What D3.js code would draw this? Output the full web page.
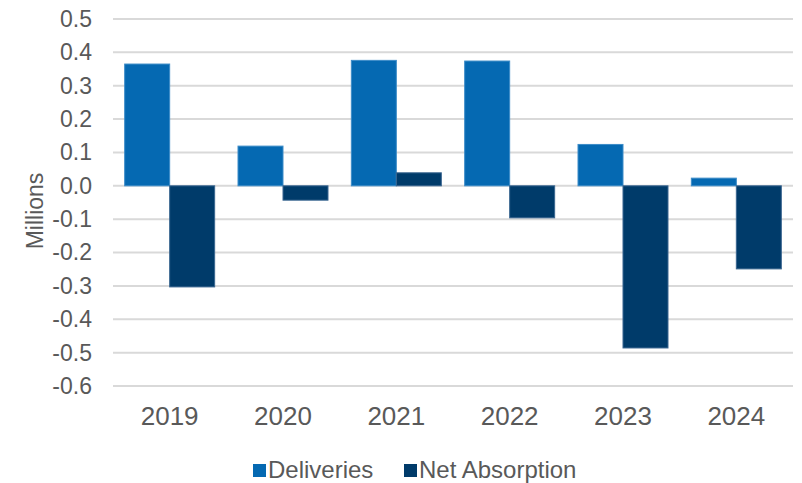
<!DOCTYPE html>
<html>
<head>
<meta charset="utf-8">
<script src="https://cdn.jsdelivr.net/npm/d3@7"></script>
<style>
  body { margin: 0; background: #fff; }
  text { font-family: "Liberation Sans", Arial, sans-serif; fill: #595959; }
</style>
</head>
<body>
<script>
// categories and series
var years = ["2019", "2020", "2021", "2022", "2023", "2024"];
var deliveries = [0.365, 0.119, 0.376, 0.374, 0.124, 0.023];
var netAbsorption = [-0.303, -0.043, 0.039, -0.096, -0.486, -0.249];
var seriesNames = ["Deliveries", "Net Absorption"];
var yTicks = [0.5, 0.4, 0.3, 0.2, 0.1, 0.0, -0.1, -0.2, -0.3, -0.4, -0.5, -0.6];

var colors = ["#0569b2", "#003b6a"];
var width = 802, height = 483;
var margin = { left: 113, right: 9, top: 19, bottom: 97 };

var svg = d3.select("body").append("svg").attr("width", width).attr("height", height);

var x = d3.scaleBand().domain(years).range([margin.left, width - margin.right]);
var x1 = d3.scaleBand().domain(seriesNames).range([x.bandwidth() * 0.103, x.bandwidth() * 0.897]);
var y = d3.scaleLinear().domain([-0.6, 0.5]).range([height - margin.bottom, margin.top]);

// gridlines
svg.append("g").selectAll("line").data(yTicks).enter().append("line")
    .attr("x1", margin.left).attr("x2", width - margin.right)
    .attr("y1", function (d) { return y(d); }).attr("y2", function (d) { return y(d); })
    .attr("stroke", "#d9d9d9").attr("stroke-width", 2);

// y axis labels
var yAxis = d3.axisLeft(y).tickValues(yTicks).tickSize(0).tickPadding(21);
var gy = svg.append("g").attr("transform", "translate(" + margin.left + ",0)").call(yAxis);
gy.select(".domain").remove();
gy.selectAll("text").attr("font-size", 23).style("fill", "#595959").attr("font-family", "Liberation Sans, Arial, sans-serif")
    .text(function (d) { return d3.format(".1f")(d).replace("−", "-").replace("-0.0", "0.0"); });

// bars
var table = years.map(function (yr, i) {
    return { year: yr, values: [deliveries[i], netAbsorption[i]] };
});
var groups = svg.append("g").selectAll("g").data(table).enter().append("g")
    .attr("transform", function (d) { return "translate(" + x(d.year) + ",0)"; });
groups.selectAll("rect").data(function (d) { return d.values; }).enter().append("rect")
    .attr("x", function (d, i) { return x1(seriesNames[i]); })
    .attr("width", x1.bandwidth())
    .attr("y", function (d) { return y(Math.max(0, d)); })
    .attr("height", function (d) { return Math.abs(y(d) - y(0)); })
    .attr("fill", function (d, i) { return colors[i]; })
    .attr("stroke", function (d, i) { return i === 0 ? "#3d8cc8" : "#3a6690"; })
    .attr("stroke-width", 1);

// x axis labels
var xAxis = d3.axisBottom(x).tickSize(0).tickPadding(0);
var gx = svg.append("g").attr("transform", "translate(0,425)").call(xAxis);
gx.select(".domain").remove();
gx.selectAll("text").attr("font-size", 26).attr("dy", 0).attr("y", 0).style("fill", "#595959")
    .attr("font-family", "Liberation Sans, Arial, sans-serif");

// y title
svg.append("text").attr("transform", "translate(43,211) rotate(-90)")
    .attr("text-anchor", "middle").attr("font-size", 23).text("Millions");

// legend
var legendX = [253, 404];
var legend = svg.append("g").selectAll("g").data(seriesNames).enter().append("g")
    .attr("transform", function (d, i) { return "translate(" + legendX[i] + ",478)"; });
legend.append("rect").attr("x", 0).attr("y", -14).attr("width", 13).attr("height", 13)
    .attr("fill", function (d, i) { return colors[i]; });
legend.append("text").attr("x", 15).attr("y", 0).attr("font-size", 24).text(function (d) { return d; });
</script>
</body>
</html>
